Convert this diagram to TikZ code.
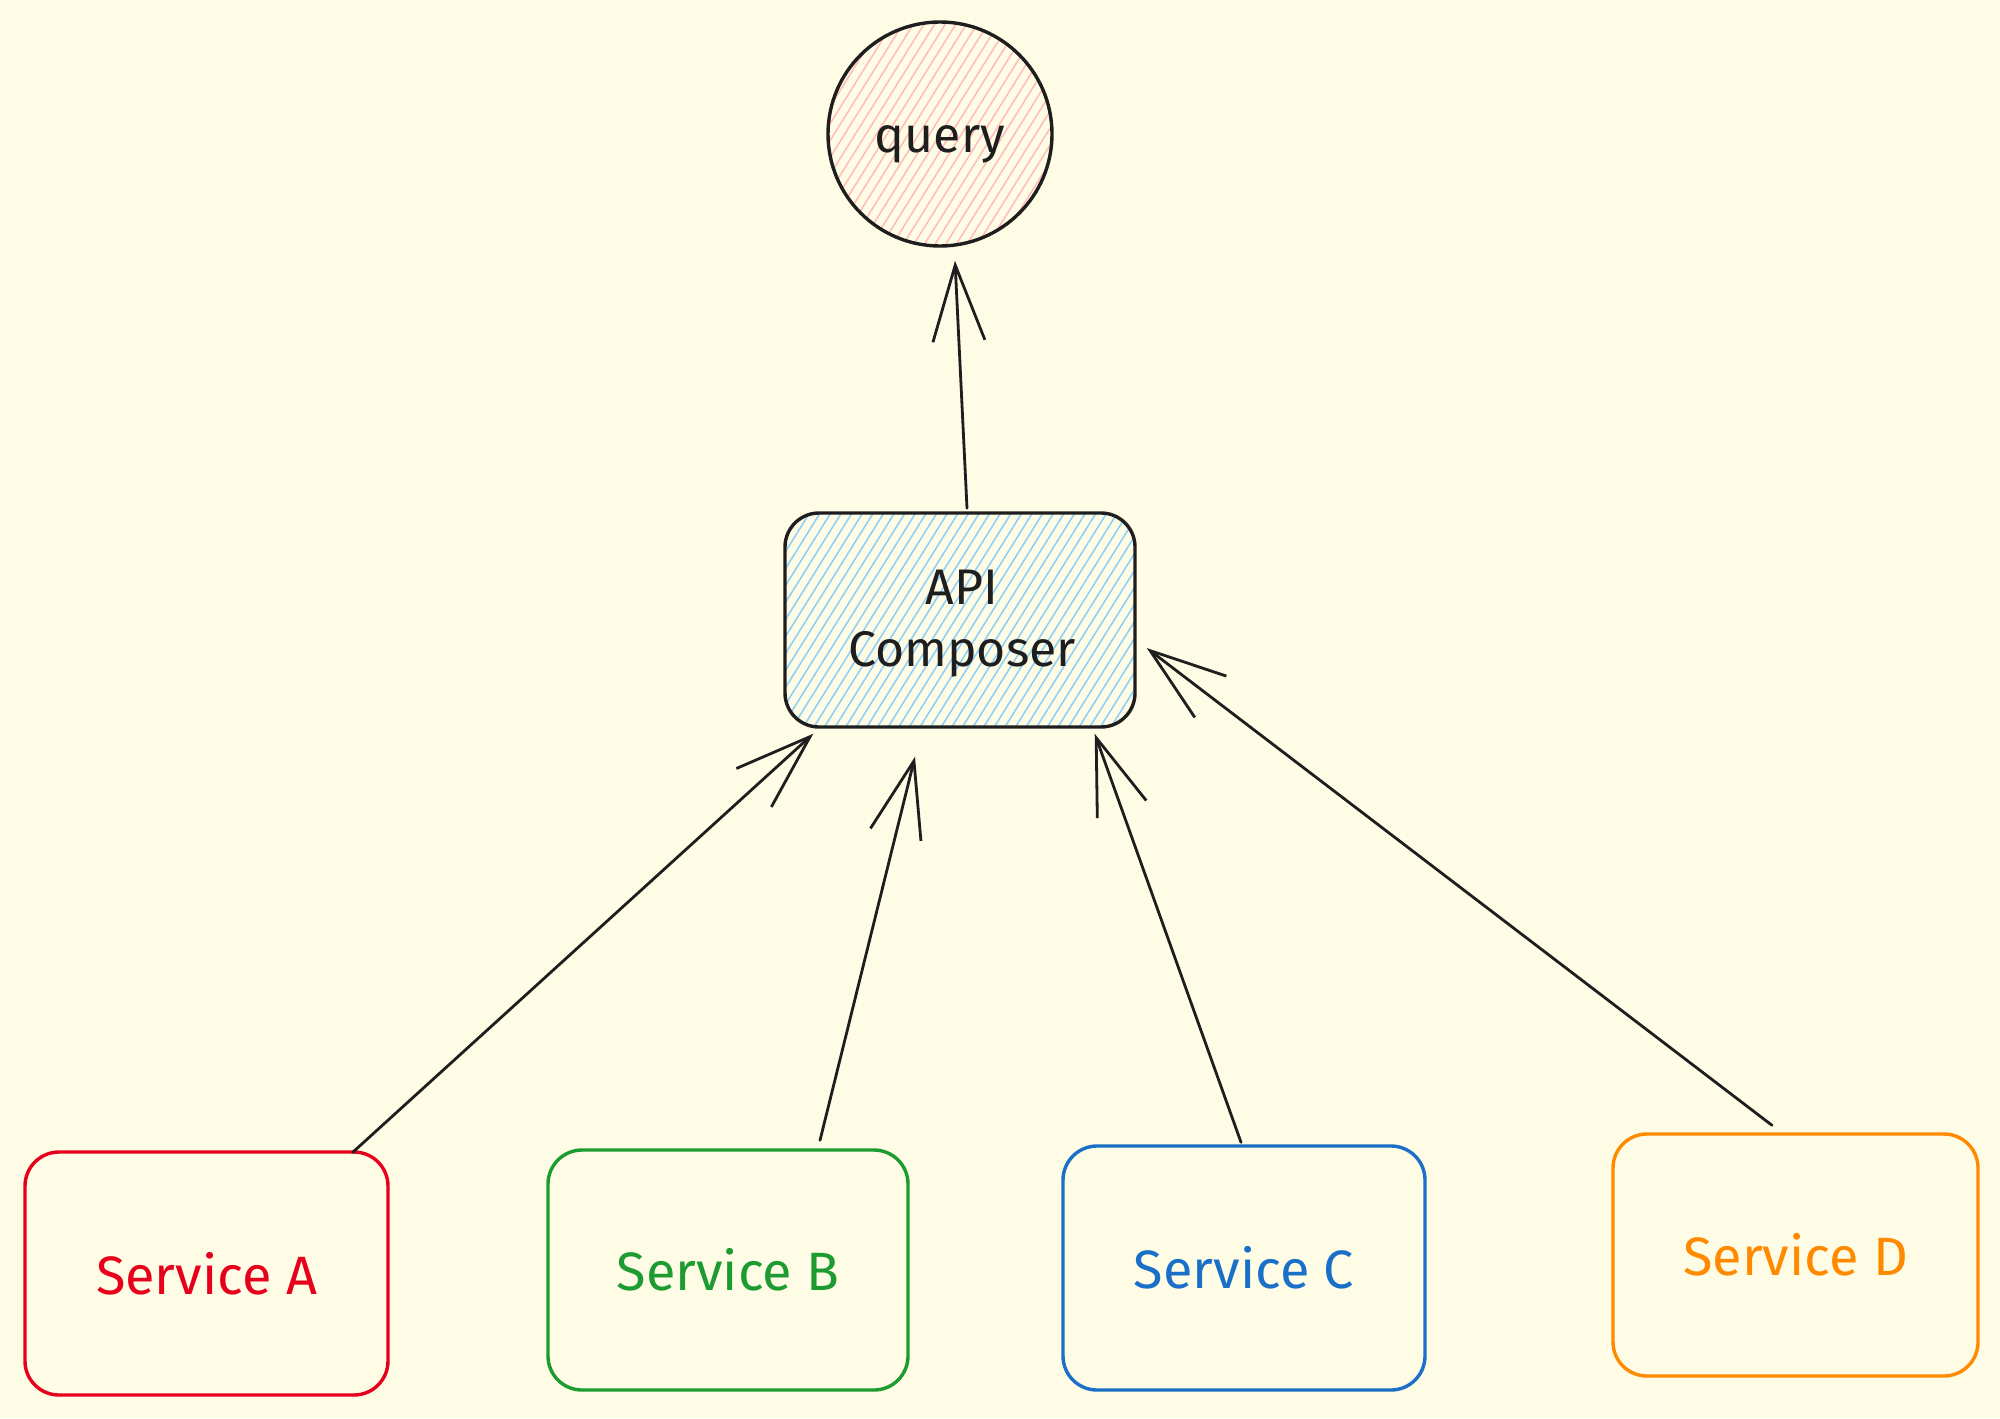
\documentclass[tikz,border=0pt]{standalone}
\usepackage{fontspec}
\setmainfont{Fira Sans}
\usetikzlibrary{arrows.meta,calc,patterns.meta}
\definecolor{bgc}{HTML}{FFFCE6}
\definecolor{redc}{HTML}{E6001C}
\definecolor{greenc}{HTML}{1C9C30}
\definecolor{bluec}{HTML}{1A70C8}
\definecolor{orangec}{HTML}{FF8A00}
\definecolor{inkc}{HTML}{1E1E1E}
\definecolor{pinkh}{HTML}{FFBDBD}
\definecolor{blueh}{HTML}{8FCFF8}
\tikzset{
  x=0.5pt, y=-0.5pt,
  lbl/.style={font=\fontsize{25}{31}\selectfont, align=center},
  svclbl/.style={font=\fontsize{27}{32}\selectfont, align=center},
  svcbox/.style={svclbl, draw=#1, text=#1, line width=1.7pt, rounded corners=17pt,
    inner sep=0pt},
  hatch/.style={pattern={Lines[angle=58,distance=4.5pt,line width=0.8pt]}, pattern color=#1},
  arr/.style={draw=inkc, line width=1.4pt, line cap=round,
    -{Straight Barb[length=38pt, width=26pt, line width=1.4pt]}}
}
\begin{document}
\begin{tikzpicture}
\fill[bgc] (0,0) rectangle (2000,1418);
\useasboundingbox (0,0) rectangle (2000,1418);

\node[circle, draw=inkc, line width=1.7pt, minimum size=112pt, inner sep=0pt,
  hatch=pinkh,
  label={[lbl, text=inkc, yshift=-5pt]center:query}] (query) at (940,134) {};

\node[lbl, draw=inkc, line width=1.7pt, rounded corners=17pt, minimum width=175pt,
  minimum height=107pt, inner sep=0pt, hatch=blueh, text=inkc,
  yshift=0pt] (api) at (960,620) {};
\node[lbl, text=inkc] (apitext) at (962,624) {API\\Composer};

\node[svcbox=redc, minimum width=181.5pt, minimum height=121.5pt] (sa) at (206.5,1273.5) {Service A};
\node[svcbox=greenc, minimum width=180pt, minimum height=120pt] (sb) at (728,1270) {Service B};
\node[svcbox=bluec, minimum width=181pt, minimum height=122pt] (sc) at (1244,1268) {Service C};
\node[svcbox=orangec, minimum width=182.5pt, minimum height=121pt] (sd) at (1795.5,1255) {Service D};

\draw[arr] ($(api.north)+(7,-3)$) -- ($(query.south)+(15,14)$);
\draw[arr] ($(sa.north east)+(-37,2)$) -- ($(api.south west)+(30,5)$);
\draw[arr] ($(sb.north)+(92,-8)$) -- ($(api.south)+(-45,28)$);
\draw[arr] ($(sc.north)+(-3,-2)$) -- ($(api.south east)+(-42,5)$);
\draw[arr] ($(sd.north)+(-23.5,-7)$) -- ($(api.east)+(10,28)$);
\end{tikzpicture}
\end{document}
